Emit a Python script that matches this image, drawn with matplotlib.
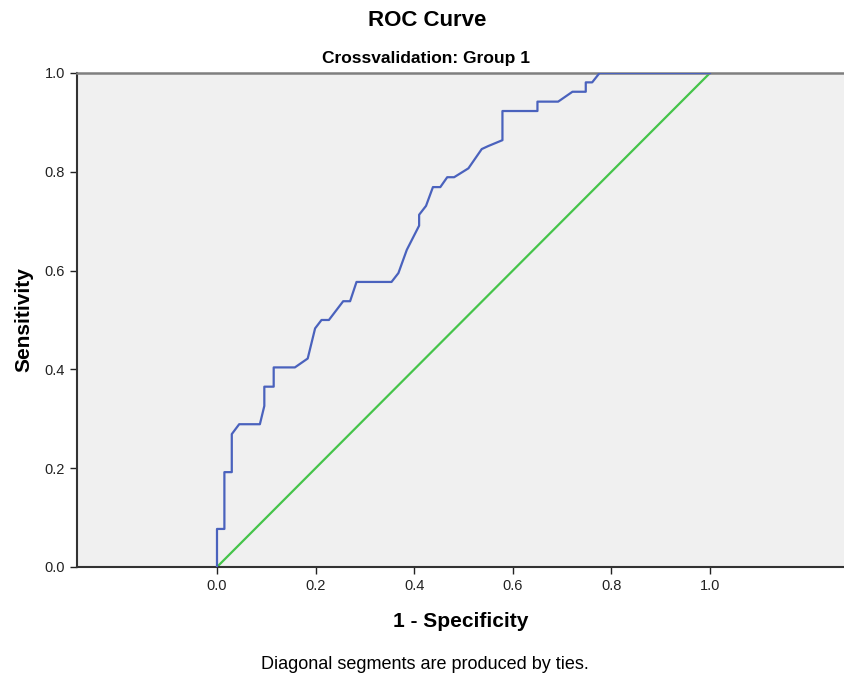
import matplotlib.pyplot as plt

# ROC points (1 - specificity, sensitivity)
fpr = [0.0, 0.0, 0.015, 0.015, 0.030, 0.030, 0.045, 0.087, 0.096, 0.096, 0.115,
       0.115, 0.158, 0.184, 0.199, 0.212, 0.227, 0.256, 0.270, 0.283, 0.354,
       0.368, 0.385, 0.410, 0.410, 0.424, 0.438, 0.453, 0.467, 0.481, 0.510,
       0.537, 0.550, 0.579, 0.579, 0.650, 0.650, 0.692, 0.721, 0.748, 0.748,
       0.761, 0.776, 1.0]
tpr = [0.0, 0.077, 0.077, 0.192, 0.192, 0.269, 0.289, 0.289, 0.326, 0.365, 0.365,
       0.404, 0.404, 0.422, 0.483, 0.500, 0.500, 0.538, 0.538, 0.577, 0.577,
       0.595, 0.642, 0.691, 0.713, 0.731, 0.769, 0.769, 0.789, 0.789, 0.807,
       0.846, 0.852, 0.864, 0.923, 0.923, 0.942, 0.942, 0.962, 0.962, 0.981,
       0.981, 1.0, 1.0]
ref_line = [0.0, 1.0]
ticks = [0.0, 0.2, 0.4, 0.6, 0.8, 1.0]


def main():
    plt.rcParams["font.family"] = ["Liberation Sans", "DejaVu Sans"]
    fig = plt.figure(figsize=(8.45, 6.77), dpi=100)
    ax = fig.add_axes([0.0911, 0.1625, 0.909, 0.7297])
    ax.set_facecolor("#f0f0f0")

    ax.plot(ref_line, ref_line, color="#45c44a", lw=1.6, zorder=2)
    ax.plot(fpr, tpr, color="#4a62bd", lw=1.6, zorder=3)

    ax.set_xlim(-0.284, 1.274)
    ax.set_ylim(0, 1)
    ax.set_xticks(ticks)
    ax.set_yticks(ticks)
    ax.set_xticklabels([f"{t:.1f}" for t in ticks])
    ax.set_yticklabels([f"{t:.1f}" for t in ticks])
    ax.tick_params(direction="out", length=5, width=1, colors="#222222", labelsize=10.5)

    for side in ["left", "bottom"]:
        ax.spines[side].set_color("#333333")
        ax.spines[side].set_linewidth(1.5)
    ax.spines["top"].set_color("#7f7f7f")
    ax.spines["top"].set_linewidth(1.8)
    ax.spines["right"].set_visible(False)

    ax.set_xlabel("1 - Specificity", fontsize=15, fontweight="bold", labelpad=14)
    ax.set_ylabel("Sensitivity", fontsize=15, fontweight="bold", labelpad=8)

    fig.text(0.506, 0.970, "ROC Curve", ha="center", va="center", fontsize=16, fontweight="bold")
    fig.text(0.504, 0.914, "Crossvalidation: Group 1", ha="center", va="center",
             fontsize=12.5, fontweight="bold")
    fig.text(0.503, 0.018, "Diagonal segments are produced by ties.", ha="center",
             va="center", fontsize=13)

    fig.savefig("out.png", dpi=100)


if __name__ == "__main__":
    main()
